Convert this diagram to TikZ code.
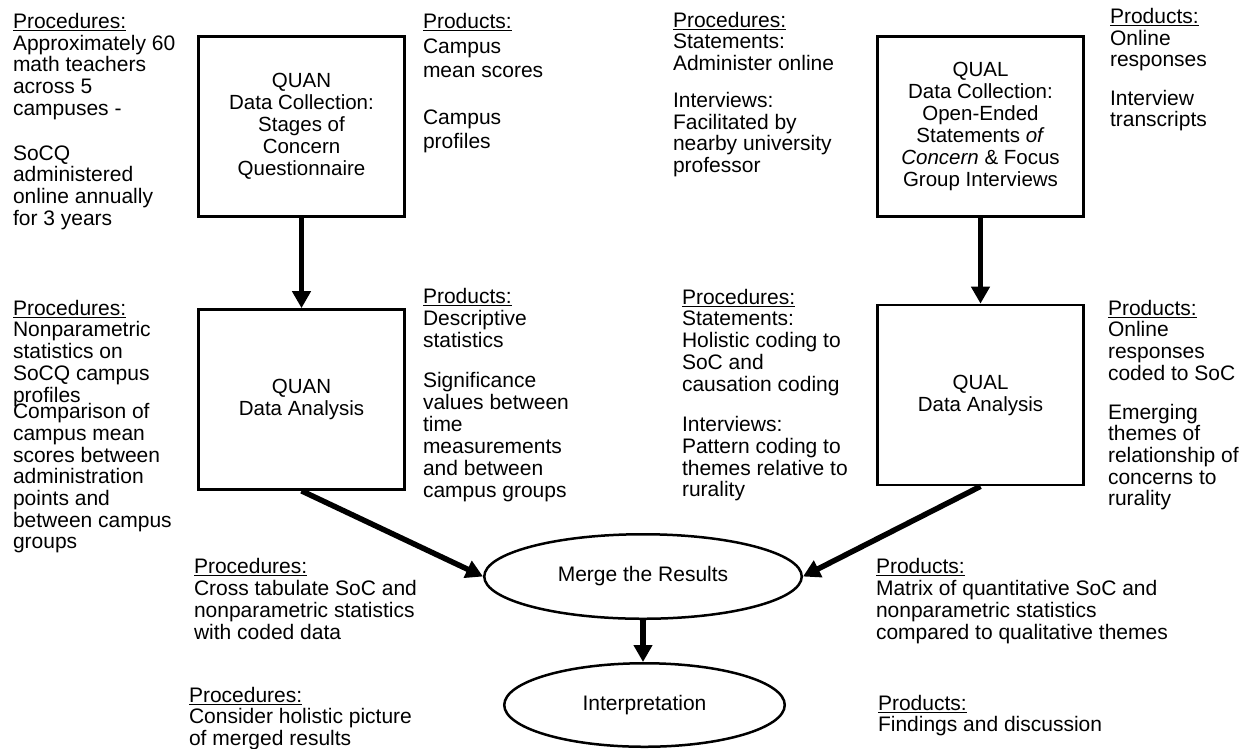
\documentclass[tikz,border=0pt]{standalone}
\usepackage{fontspec}
\setmainfont{Liberation Sans}
\usetikzlibrary{arrows.meta,shapes.geometric}
\begin{document}
\begin{tikzpicture}[x=1pt,y=-1pt,
  txt/.style={anchor=north west, inner sep=0pt, outer sep=0pt, align=left,
    font=\fontsize{21}{21.7}\selectfont},
  stagebox/.style={draw, line width=2.7pt, minimum width=206pt, minimum height=180pt,
    inner sep=0pt, align=center, font=\fontsize{20.5}{22}\selectfont},
  oval/.style={ellipse, draw, line width=2.5pt, inner sep=0pt, align=center,
    font=\fontsize{21}{22}\selectfont},
  flow/.style={line width=5.5pt, -{Triangle[width=18pt,length=17pt]}}
]
\useasboundingbox (0,0) rectangle (1249,748);
\fill[white] (0,0) rectangle (1249,748);

% boxes
\node[stagebox] (quan1) at (301.5,126.5) {QUAN\\Data Collection:\\Stages of\\Concern\\Questionnaire};
\node[stagebox] (quan2) at (301.5,399.5) {QUAN\\Data Analysis};
\node[stagebox] (qual1) at (980.5,126.5) {QUAL\\Data Collection:\\Open-Ended\\Statements \textit{of}\\\textit{Concern} \& Focus\\Group Interviews};
\node[stagebox] (qual2) at (980.5,395) {QUAL\\Data Analysis};
\node[oval, minimum width=317.5pt, minimum height=84.5pt] (merge) at (643,576.5) {Merge the Results};
\node[oval, minimum width=280.5pt, minimum height=83.5pt] (interp) at (644.5,705) {Interpretation};

% connectors
\draw[flow] (quan1.south) -- (quan2.north);
\draw[flow] (qual1.south) -- (qual2.north);
\draw[flow] (quan2.south) -- (merge.west);
\draw[flow] (qual2.south) -- (merge.east);
\draw[flow] (merge.south) -- (merge.south |- interp.north);

% annotations
\node[txt] (pA) at (13,13.3) {\underline{Procedures:}\\Approximately 60\\math teachers\\across 5\\campuses -\\[23pt]SoCQ\\administered\\online annually\\for 3 years};
\node[txt, font=\fontsize{21}{24.5}\selectfont] (pB) at (423,13.3) {\underline{Products:}\\Campus\\mean scores\\[22pt]Campus\\profiles};
\node[txt] (pC) at (673,12) {\underline{Procedures:}\\Statements:\\Administer online\\[15pt]Interviews:\\Facilitated by\\nearby university\\professor};
\node[txt, font=\fontsize{21}{21.5}\selectfont] (pD) at (1110,8.3) {\underline{Products:}\\Online\\responses\\[17pt]Interview\\transcripts};

\node[txt] (pE) at (13,300) {\underline{Procedures:}\\Nonparametric\\statistics on\\SoCQ campus\\profiles\\[-5pt]Comparison of\\campus mean\\scores between\\administration\\points and\\between campus\\groups};
\node[txt, font=\fontsize{21}{22}\selectfont] (pF) at (423,288) {\underline{Products:}\\Descriptive\\statistics\\[18pt]Significance\\values between\\time\\measurements\\and between\\campus groups};
\node[txt] (pG) at (682,289) {\underline{Procedures:}\\Statements:\\Holistic coding to\\SoC and\\causation coding\\[19pt]Interviews:\\Pattern coding to\\themes relative to\\rurality};
\node[txt] (pH) at (1108,300) {\underline{Products:}\\Online\\responses\\coded to SoC\\[17pt]Emerging\\themes of\\relationship of\\concerns to\\rurality};

\node[txt, font=\fontsize{21}{22}\selectfont] (pI) at (194,558) {\underline{Procedures:}\\Cross tabulate SoC and\\nonparametric statistics\\with coded data};
\node[txt, font=\fontsize{21}{22}\selectfont] (pJ) at (876,558) {\underline{Products:}\\Matrix of quantitative SoC and\\nonparametric statistics\\compared to qualitative themes};
\node[txt, font=\fontsize{21}{21.5}\selectfont] (pK) at (189,687) {\underline{Procedures:}\\Consider holistic picture\\of merged results};
\node[txt] (pL) at (878,695) {\underline{Products:}\\Findings and discussion};
\end{tikzpicture}
\end{document}
